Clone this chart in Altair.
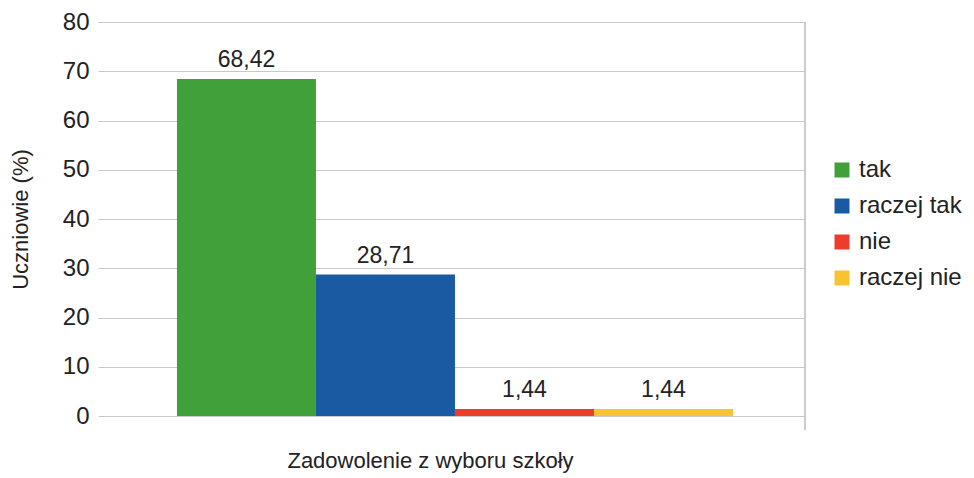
import altair as alt
import pandas as pd

categories = ["tak", "raczej tak", "nie", "raczej nie"]
values = [68.42, 28.71, 1.44, 1.44]
labels = ["68,42", "28,71", "1,44", "1,44"]
colors = ["#41a03a", "#1a5aa2", "#ec3d2c", "#f6c42f"]
y_ticks = [0, 10, 20, 30, 40, 50, 60, 70, 80]

df = pd.DataFrame({"kat": categories, "val": values, "lab": labels})

W, H = 707, 394

x_enc = alt.X(
    "kat:N",
    sort=categories,
    scale=alt.Scale(paddingInner=0, paddingOuter=0.543, align=0.523),
    axis=alt.Axis(
        labels=False, ticks=False, domain=False, grid=False,
        title="Zadowolenie z wyboru szkoły",
        titleFontSize=22, titleFontWeight="normal", titleColor="#222222",
        titleX=332, titleY=51, titleBaseline="alphabetic", titleAlign="center",
    ),
)

y_enc = alt.Y(
    "val:Q",
    scale=alt.Scale(domain=[0, 80], nice=False),
    axis=alt.Axis(
        values=y_ticks, ticks=False, domain=False, grid=True,
        gridColor="#c8c8c8", gridWidth=1,
        labelFontSize=24, labelColor="#222222", labelPadding=9,
        title="Uczniowie (%)", titleFontSize=22, titleFontWeight="normal",
        titleColor="#222222", titleAngle=270, titleX=-71, titleY=H / 2,
        titleBaseline="alphabetic", titleAlign="center",
    ),
)

bars = alt.Chart(df).mark_bar(size=139).encode(
    x=x_enc,
    y=y_enc,
    color=alt.Color(
        "kat:N",
        sort=categories,
        scale=alt.Scale(domain=categories, range=colors),
        legend=alt.Legend(
            title=None, orient="none", legendX=732, legendY=136,
            symbolType="square", symbolSize=225, symbolStrokeWidth=0,
            labelFontSize=24, labelColor="#222222", labelOffset=5,
            rowPadding=12,
        ),
    ),
)

text = alt.Chart(df).mark_text(
    dy=-12, baseline="alphabetic", fontSize=23, color="#222222"
).encode(
    x=alt.X("kat:N", sort=categories),
    y="val:Q",
    text="lab:N",
)

border = alt.Chart(df).mark_rule(color="#c8c8c8", strokeWidth=1).encode(
    x=alt.value(W), y=alt.value(0), y2=alt.value(H + 14)
)

chart = alt.layer(bars, text, border).properties(
    width=W, height=H,
    autosize=alt.AutoSizeParams(type="none"),
    padding={"left": 90, "top": 14, "right": 160, "bottom": 60},
).configure(font="Liberation Sans").configure_view(stroke=None)

chart.save("out.html", embed_options={"renderer": "svg", "actions": False})
